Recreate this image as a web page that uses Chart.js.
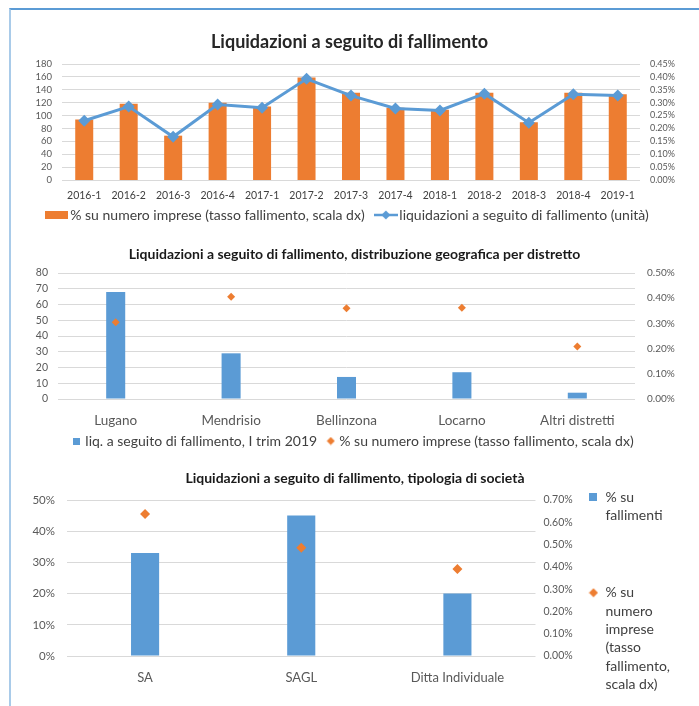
<!DOCTYPE html>
<html><head><meta charset="utf-8">
<script src="https://cdn.jsdelivr.net/npm/chart.js@4.4.1/dist/chart.umd.min.js"></script>
<style>
html,body{margin:0;padding:0;background:#fff;}
body{width:699px;height:706px;position:relative;overflow:hidden;}
#frame{position:absolute;left:9px;top:8px;right:0;bottom:0;border-top:2px solid #5b9bd5;border-left:2px solid #a9cbe9;}
canvas{position:absolute;left:0;}
</style></head><body>
<div id="frame"></div>
<canvas id="c1" width="699" height="212" style="top:20px"></canvas>
<canvas id="c2" width="699" height="228" style="top:230px"></canvas>
<canvas id="c3" width="699" height="274" style="top:432px"></canvas>
<script>
// ---- data ----
const periodi = ['2016-1','2016-2','2016-3','2016-4','2017-1','2017-2','2017-3','2017-4','2018-1','2018-2','2018-3','2018-4','2019-1'];
const liquidazioniUnita = [92,114,67,117,112,157,131,111,108,134,89,133,131];
const tassoTrimestre = [0.235,0.296,0.172,0.300,0.285,0.398,0.338,0.280,0.273,0.338,0.224,0.338,0.333];
const scala1Sx = [0,180,20];
const scala1Dx = [0,0.45,0.05];

const distretti = ['Lugano','Mendrisio','Bellinzona','Locarno','Altri distretti'];
const liqDistretto = [68,29,14,17,4];
const tassoDistretto = [0.305,0.406,0.360,0.362,0.208];
const scala2Sx = [0,80,10];
const scala2Dx = [0,0.5,0.1];

const tipologie = ['SA','SAGL','Ditta Individuale'];
const quotaFallimenti = [33,45,20];
const tassoTipologia = [0.637,0.486,0.390];
const scala3Sx = [0,50,10];
const scala3Dx = [0,0.7,0.1];

const titoli = ['Liquidazioni a seguito di fallimento',
  'Liquidazioni a seguito di fallimento, distribuzione geografica per distretto',
  'Liquidazioni a seguito di fallimento, tipologia di società'];

// ---- styling ----
const ORANGE = '#ED7D31', BLUE = '#5B9BD5', GRID = '#d9d9d9', TICK = '#595959', LEG = '#404040';
Chart.defaults.font.family = 'Lato, "Open Sans", sans-serif';
Chart.defaults.color = TICK;

function mk(w,h,draw){const c=document.createElement('canvas');c.width=w;c.height=h;draw(c.getContext('2d'),w,h);return c;}
function diamond(g,cx,cy,r,col){g.fillStyle=col;g.beginPath();g.moveTo(cx-r,cy);g.lineTo(cx,cy-r);g.lineTo(cx+r,cy);g.lineTo(cx,cy+r);g.closePath();g.fill();}
const imgBar1 = mk(23,8,(g,w,h)=>{g.fillStyle=ORANGE;g.fillRect(0,0,w,h);});
const imgLine1 = mk(24,12,(g,w,h)=>{g.strokeStyle=BLUE;g.lineWidth=2.5;g.beginPath();g.moveTo(0,6);g.lineTo(24,6);g.stroke();diamond(g,12,6,4.5,BLUE);});
const imgSq2 = mk(7,7,(g,w,h)=>{g.fillStyle=BLUE;g.fillRect(0,0,w,h);});
const imgDi2 = mk(9,9,(g)=>diamond(g,4.5,4.5,4,ORANGE));
const imgSq3 = mk(8,8,(g,w,h)=>{g.fillStyle=BLUE;g.fillRect(0,0,w,h);});
const imgDi3 = mk(10,10,(g)=>diamond(g,5,5,4.5,ORANGE));

const fixW = w => s => { s.width = w; };
const fixH = h => s => { s.height = h; };
const pct2 = v => v.toFixed(2) + '%';
const byIndex = (a,b) => a.datasetIndex - b.datasetIndex;
function legendWith(styles, texts){
  return function(chart){
    const items = Chart.defaults.plugins.legend.labels.generateLabels(chart);
    items.forEach(it => { it.pointStyle = styles[it.datasetIndex]; if (texts) it.text = texts[it.datasetIndex]; it.fontColor = LEG; });
    return items;
  };
}
function yAxis(pos, sc, fmt, size, pad, w, grid){
  return {position:pos, min:sc[0], max:sc[1],
    ticks:{stepSize:sc[2], padding:pad, font:{size:size}, color:TICK, callback: fmt, autoSkip:false},
    grid:{display:grid, color:GRID, drawTicks:false, lineWidth:1},
    border:{display:false}, afterFit: fixW(w)};
}
function xAxis(size, pad, h, col){
  return {grid:{display:false, drawTicks:false}, border:{display:false},
    ticks:{font:{size:size}, padding:pad, maxRotation:0, autoSkip:false, color:col || TICK}, afterFit:fixH(h)};
}

function build(){
  // Chart 1
  new Chart(document.getElementById('c1'), {
    type:'bar',
    data:{labels:periodi, datasets:[
      {type:'bar', label:'% su numero imprese (tasso fallimento, scala dx)', data:tassoTrimestre, yAxisID:'yR',
       backgroundColor:ORANGE, barPercentage:0.405, categoryPercentage:1, order:1},
      {type:'line', label:'liquidazioni a seguito di fallimento (unità)', data:liquidazioniUnita, yAxisID:'yL',
       borderColor:BLUE, backgroundColor:BLUE, borderWidth:3, pointStyle:'rectRot', pointRadius:6,
       pointBackgroundColor:BLUE, pointBorderWidth:0, tension:0, order:0}
    ]},
    options:{responsive:false, animation:false, layout:{padding:0},
      scales:{
        x:xAxis(10.5, 9, 24, '#404040'),
        yL:yAxis('left', scala1Sx, v=>v, 9.5, 10, 62, true),
        yR:yAxis('right', scala1Dx, pct2, 9, 10, 59, false)
      },
      plugins:{
        title:{display:true, text:titoli[0], font:{size:18, weight:'bold'}, color:'#262626', padding:{top:11, bottom:11.4}},
        legend:{position:'bottom', labels:{usePointStyle:true, pointStyleWidth:13, padding:4, font:{size:14}, color:LEG,
          generateLabels:legendWith([imgBar1, imgLine1], ['% su numero imprese (tasso fallimento, scala dx)   ', 'liquidazioni a seguito di fallimento (unità)']), sort:byIndex}},
        tooltip:{enabled:false}
      }}
  });

  // Chart 2
  new Chart(document.getElementById('c2'), {
    type:'bar',
    data:{labels:distretti, datasets:[
      {type:'bar', label:'liq. a seguito di fallimento, I trim 2019', data:liqDistretto, yAxisID:'yL',
       backgroundColor:BLUE, barPercentage:0.165, categoryPercentage:1, order:1},
      {type:'line', label:'% su numero imprese (tasso fallimento, scala dx)', data:tassoDistretto, yAxisID:'yR',
       showLine:false, pointStyle:'rectRot', pointRadius:4, pointBackgroundColor:ORANGE, backgroundColor:ORANGE, borderColor:ORANGE, pointBorderWidth:0, order:0}
    ]},
    options:{responsive:false, animation:false, layout:{padding:{left:10}},
      scales:{
        x:xAxis(13.5, 14, 30),
        yL:yAxis('left', scala2Sx, v=>v, 10.5, 10, 48, true),
        yR:yAxis('right', scala2Dx, pct2, 10, 12, 64, false)
      },
      plugins:{
        title:{display:true, text:titoli[1], font:{size:14, weight:'bold'}, color:'#1a1a1a', padding:{top:15.6, bottom:10.6}},
        legend:{position:'bottom', labels:{usePointStyle:true, pointStyleWidth:3, padding:5, font:{size:14}, color:LEG,
          generateLabels:legendWith([imgSq2, imgDi2], ['liq. a seguito di fallimento, I trim 2019  ', '% su numero imprese (tasso fallimento, scala dx)']), sort:byIndex}},
        tooltip:{enabled:false}
      }}
  });

  // Chart 3
  const legFont = '14px Lato, "Open Sans", sans-serif';
  const mctx = document.createElement('canvas').getContext('2d');
  mctx.font = legFont;
  const legW = 4 + 10 + 7 + mctx.measureText('fallimento,').width + 10;
  const PR = Math.round(115 - legW);
  const PL = 11 + PR;
  new Chart(document.getElementById('c3'), {
    type:'bar',
    data:{labels:tipologie, datasets:[
      {type:'bar', label:'% su fallimenti', data:quotaFallimenti, yAxisID:'yL',
       backgroundColor:BLUE, barPercentage:0.18, categoryPercentage:1, order:1},
      {type:'line', label:'% su numero imprese (tasso fallimento, scala dx)', data:tassoTipologia, yAxisID:'yR',
       showLine:false, pointStyle:'rectRot', pointRadius:5, pointBackgroundColor:ORANGE, backgroundColor:ORANGE, borderColor:ORANGE, pointBorderWidth:0, order:0}
    ]},
    options:{responsive:false, animation:false, layout:{padding:{left:PL, right:PR}},
      scales:{
        x:xAxis(13, 14, 50),
        yL:yAxis('left', scala3Sx, v=>v + '%', 11.5, 12, 67 - PL, true),
        yR:yAxis('right', scala3Dx, pct2, 10.5, 8, 49, false)
      },
      plugins:{
        title:{display:true, text:titoli[2], font:{size:14, weight:'bold'}, color:'#1a1a1a', padding:{top:37.6, bottom:13.6}},
        legend:{position:'right', align:'start',
          title:{display:true, text:' ', font:{size:10, lineHeight:1}, padding:{top:44, bottom:0}},
          labels:{usePointStyle:true, pointStyleWidth:10, padding:4, font:{size:14, lineHeight:1.31}, color:LEG,
          generateLabels:legendWith([imgSq3, imgDi3], [['% su','fallimenti','','',''], ['% su','numero','imprese','(tasso','fallimento,','scala dx)']]), sort:byIndex}},
        tooltip:{enabled:false}
      }}
  });
}

if (document.fonts && document.fonts.load) {
  Promise.all([document.fonts.load('12px Lato'), document.fonts.load('bold 12px Lato')]).then(build, build);
} else { build(); }
</script>
</body></html>
